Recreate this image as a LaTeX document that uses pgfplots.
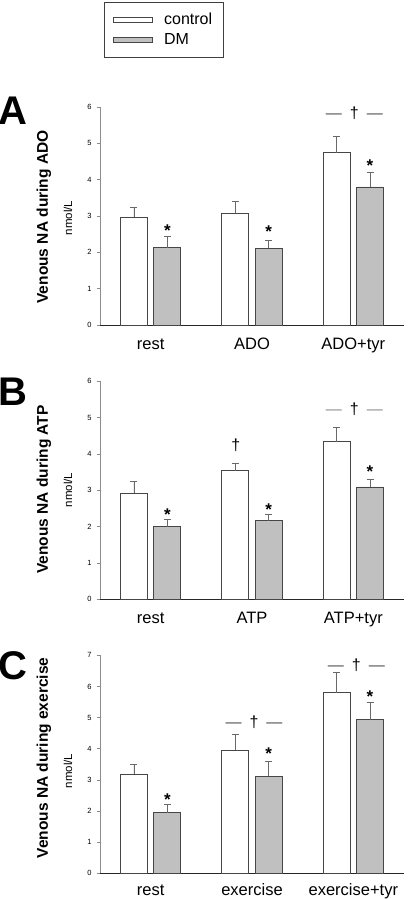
\documentclass[border=0pt]{standalone}
\usepackage{fontspec}
\setmainfont{Liberation Sans}
\usepackage{pgfplots}
\pgfplotsset{compat=1.18}
\definecolor{barg}{RGB}{192,192,192}
\definecolor{edgec}{RGB}{70,70,70}
\definecolor{errc}{RGB}{105,105,105}

\tikzset{
  star/.style={font=\fontsize{17}{17}\selectfont\bfseries, yshift=-3.5pt, inner sep=0pt},
  dag/.style={font=\fontsize{16}{16}\selectfont, inner sep=0pt},
}
\pgfplotsset{
  panel/.style={
    scale only axis, width=304pt, height=218pt,
    xmin=0, xmax=3, ymin=0,
    clip=false,
    axis x line*=bottom, axis y line*=left,
    x axis line style={black!85, line width=0.8pt},
    y axis line style={black!45, line width=0.8pt},
    xtick={0.5,1.5,2.5},
    xtick style={draw=none},
    ytick distance=1,
    tick align=outside,
    major tick length=3.5pt,
    ytick style={black!45, line width=0.6pt},
    /pgf/number format/assume math mode=true,
    yticklabel style={font=\fontsize{7.5}{8}\selectfont, xshift=-1.5pt},
    xticklabel style={font=\fontsize{16.5}{18}\selectfont, text height=12pt, text depth=3.5pt, inner sep=0pt, anchor=north, yshift=-9pt},
  },
  legimg/.style={legend image code/.code={\draw[##1] (0pt,-2.7pt) rectangle (39pt,2.7pt);}},
  ctrl/.style={ybar, bar width=27pt, bar shift=0pt, fill=white, draw=edgec, line width=0.8pt,
     error bars/y dir=plus, error bars/y explicit, error bars/error mark=-,
     error bars/error bar style={errc, line width=0.8pt},
     error bars/error mark options={errc, mark size=3.5pt, line width=0.8pt, rotate=90}, legimg},
  dm/.style={ybar, bar width=27pt, bar shift=0pt, fill=barg, draw=edgec, line width=0.8pt,
     error bars/y dir=plus, error bars/y explicit, error bars/error mark=-,
     error bars/error bar style={errc, line width=0.8pt},
     error bars/error mark options={errc, mark size=3.5pt, line width=0.8pt, rotate=90}, legimg},
}

\begin{document}
\begin{tikzpicture}[x=1pt,y=1pt]
\useasboundingbox (0,0) rectangle (407,899);

% ---------------- Panel A ----------------
\begin{axis}[panel, at={(100pt,574pt)}, anchor=south west, ymax=6,
  xticklabels={rest,ADO,ADO+tyr},
  legend entries={control\hspace{14pt},DM},
  legend style={at={(axis description cs:0.013,1.482)}, anchor=north west,
    draw=black!75, line width=0.8pt, font=\fontsize{16}{18}\selectfont,
    inner xsep=9pt, inner ysep=9pt, row sep=3pt,
    /tikz/every odd column/.append style={column sep=9pt}},
  legend cell align=left]
\addplot[ctrl] coordinates {(0.335,2.96) +- (0,0.29) (1.335,3.07) +- (0,0.32) (2.335,4.74) +- (0,0.46)};
\addplot[dm] coordinates {(0.665,2.13) +- (0,0.32) (1.665,2.11) +- (0,0.21) (2.665,3.80) +- (0,0.41)};
\node[star] at (axis cs:0.665,2.70) {*};
\node[star] at (axis cs:1.665,2.67) {*};
\node[star] at (axis cs:2.665,4.49) {*};
\node[dag] at (axis cs:2.51,5.82) {{\color{black!70}—}\hspace{8pt}†\hspace{8pt}{\color{black!70}—}};
\end{axis}

% ---------------- Panel B ----------------
\begin{axis}[panel, at={(100pt,299.8pt)}, anchor=south west, ymax=6,
  xticklabels={rest,ATP,ATP+tyr}]
\addplot[ctrl] coordinates {(0.335,2.91) +- (0,0.32) (1.335,3.54) +- (0,0.21) (2.335,4.33) +- (0,0.39)};
\addplot[dm] coordinates {(0.665,1.99) +- (0,0.20) (1.665,2.16) +- (0,0.17) (2.665,3.09) +- (0,0.20)};
\node[star] at (axis cs:0.665,2.42) {*};
\node[star] at (axis cs:1.665,2.56) {*};
\node[star] at (axis cs:2.665,3.61) {*};
\node[dag] at (axis cs:1.34,4.24) {†};
\node[dag] at (axis cs:2.51,5.24) {{\color{black!45}—}\hspace{8pt}†\hspace{8pt}{\color{black!45}—}};
\end{axis}

% ---------------- Panel C ----------------
\begin{axis}[panel, at={(100pt,25.7pt)}, anchor=south west, ymax=7,
  xticklabels={rest,exercise,exercise+tyr},
  xticklabel style={yshift=3pt}]
\addplot[ctrl] coordinates {(0.335,3.19) +- (0,0.32) (1.335,3.96) +- (0,0.50) (2.335,5.80) +- (0,0.66)};
\addplot[dm] coordinates {(0.665,1.94) +- (0,0.27) (1.665,3.11) +- (0,0.47) (2.665,4.93) +- (0,0.55)};
\node[star] at (axis cs:0.665,2.49) {*};
\node[star] at (axis cs:1.665,3.94) {*};
\node[star] at (axis cs:2.665,5.80) {*};
\node[dag] at (axis cs:1.52,4.86) {{\color{black!70}—}\hspace{8pt}†\hspace{8pt}{\color{black!70}—}};
\node[dag] at (axis cs:2.53,6.68) {{\color{black!70}—}\hspace{8pt}†\hspace{8pt}{\color{black!70}—}};
\end{axis}

% ---------------- letters and axis titles ----------------
\begin{scope}[font=\fontsize{40}{40}\selectfont\bfseries]
\node at (13,788) {A};
\node at (13,507) {B};
\node at (13,233) {C};
\end{scope}
\begin{scope}[font=\fontsize{15.5}{16}\selectfont\bfseries]
\node[rotate=90] at (44,682) {Venous NA during ADO};
\node[rotate=90] at (44,409.5) {Venous NA during ATP};
\node[rotate=90] at (44,141) {Venous NA during exercise};
\end{scope}
\begin{scope}[font=\fontsize{11.5}{12}\selectfont]
\node[rotate=90] at (68,681) {nmol/L};
\node[rotate=90] at (68,409) {nmol/L};
\node[rotate=90] at (68,128) {nmol/L};
\end{scope}
\end{tikzpicture}
\end{document}
